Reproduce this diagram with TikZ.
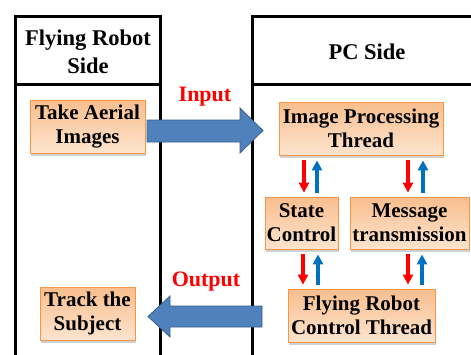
\documentclass[tikz,border=0pt]{standalone}
\usepackage{fontspec}
\setmainfont{Liberation Serif}[BoldFont={Liberation Serif Bold}]
\newfontfamily\tnr{Liberation Serif}[BoldFont={Liberation Serif Bold}]
\usetikzlibrary{shadows,arrows.meta}
\definecolor{boxborder}{HTML}{F79646}
\definecolor{boxtop}{HTML}{F9BE8E}
\definecolor{boxbot}{HTML}{FDE4CE}
\definecolor{arrfill}{HTML}{4F81BD}
\definecolor{arrdraw}{HTML}{385D8A}
\definecolor{redarr}{HTML}{FF0000}
\definecolor{bluearr}{HTML}{0070C0}
\begin{document}
\begin{tikzpicture}[x=1pt,y=-1pt,
  panel/.style={draw=black,line width=3pt},
  headtxt/.style={font=\tnr\fontsize{22.5}{28}\selectfont\bfseries,align=center,inner sep=0pt},
  obox/.style={draw=boxborder,line width=0.8pt,top color=boxtop,bottom color=boxbot,
    drop shadow={shadow xshift=1pt,shadow yshift=-2.5pt,fill=gray!60,opacity=0.6},
    font=\tnr\fontsize{21}{24}\selectfont\bfseries,align=center,inner sep=0pt},
  blockarr/.style={fill=arrfill,draw=arrdraw,line width=0.8pt},
  lbl/.style={text=redarr,font=\tnr\fontsize{22}{24}\selectfont\bfseries,inner sep=0pt},
  downarr/.style={draw=redarr,line width=3.5pt,-{Triangle[width=10pt,length=10pt]},shorten <=5pt,shorten >=4pt},
  uparr/.style={draw=bluearr,line width=3.5pt,-{Triangle[width=10pt,length=10pt]},shorten <=4pt,shorten >=5pt}]
\useasboundingbox (0,0) rectangle (471,354);
\begin{scope}
\clip (0,0) rectangle (471,354);
\draw[panel] (15,370) -- (15,16) -- (160,16) -- (160,370);
\draw[panel] (15,84) -- (160,84);
\draw[panel] (252,370) -- (252,16) -- (490,16);
\draw[panel] (252,84) -- (490,84);
\end{scope}
\node[headtxt] (hl) at (88,52) {Flying Robot\\Side};
\node[headtxt] (hr) at (367,52) {PC Side};
\node[obox,minimum width=115pt,minimum height=53pt] (tai) at (87.5,126.5) {Take Aerial\\Images};
\node[obox,minimum width=164pt,minimum height=53pt] (ipt) at (361,128.5) {Image Processing\\Thread};
\node[obox,minimum width=73pt,minimum height=52pt] (sc) at (301.5,223) {State\\Control};
\node[obox,minimum width=119pt,minimum height=52pt] (mt) at (409.5,223) {Message\\transmission};
\node[obox,minimum width=147pt,minimum height=53pt] (frc) at (361.5,315.5) {Flying Robot\\Control Thread};
\node[obox,minimum width=95pt,minimum height=53pt] (tts) at (87.5,313.5) {Track the\\Subject};
\draw[blockarr] (147,120) -- (240,120) -- (240,108) -- (263,130.5) -- (240,153) -- (240,142) -- (147,142) -- cycle;
\draw[blockarr] (262,306) -- (170,306) -- (170,296) -- (148,316.5) -- (170,337) -- (170,327) -- (262,327) -- cycle;
\node[lbl] (lin) at (205,97) {Input};
\node[lbl] (lout) at (206,282) {Output};
\coordinate (a1) at (304,0);
\coordinate (b1) at (317,0);
\coordinate (a2) at (408,0);
\coordinate (b2) at (423,0);
\coordinate (a3) at (303,0);
\coordinate (b3) at (318,0);
\coordinate (a4) at (408,0);
\coordinate (b4) at (422,0);
\draw[downarr] (ipt.south -| a1) -- (sc.north -| a1);
\draw[uparr] (sc.north -| b1) -- (ipt.south -| b1);
\draw[downarr] (ipt.south -| a2) -- (mt.north -| a2);
\draw[uparr] (mt.north -| b2) -- (ipt.south -| b2);
\draw[downarr] (sc.south -| a3) -- (frc.north -| a3);
\draw[uparr] (frc.north -| b3) -- (sc.south -| b3);
\draw[downarr] (mt.south -| a4) -- (frc.north -| a4);
\draw[uparr] (frc.north -| b4) -- (mt.south -| b4);
\end{tikzpicture}
\end{document}
